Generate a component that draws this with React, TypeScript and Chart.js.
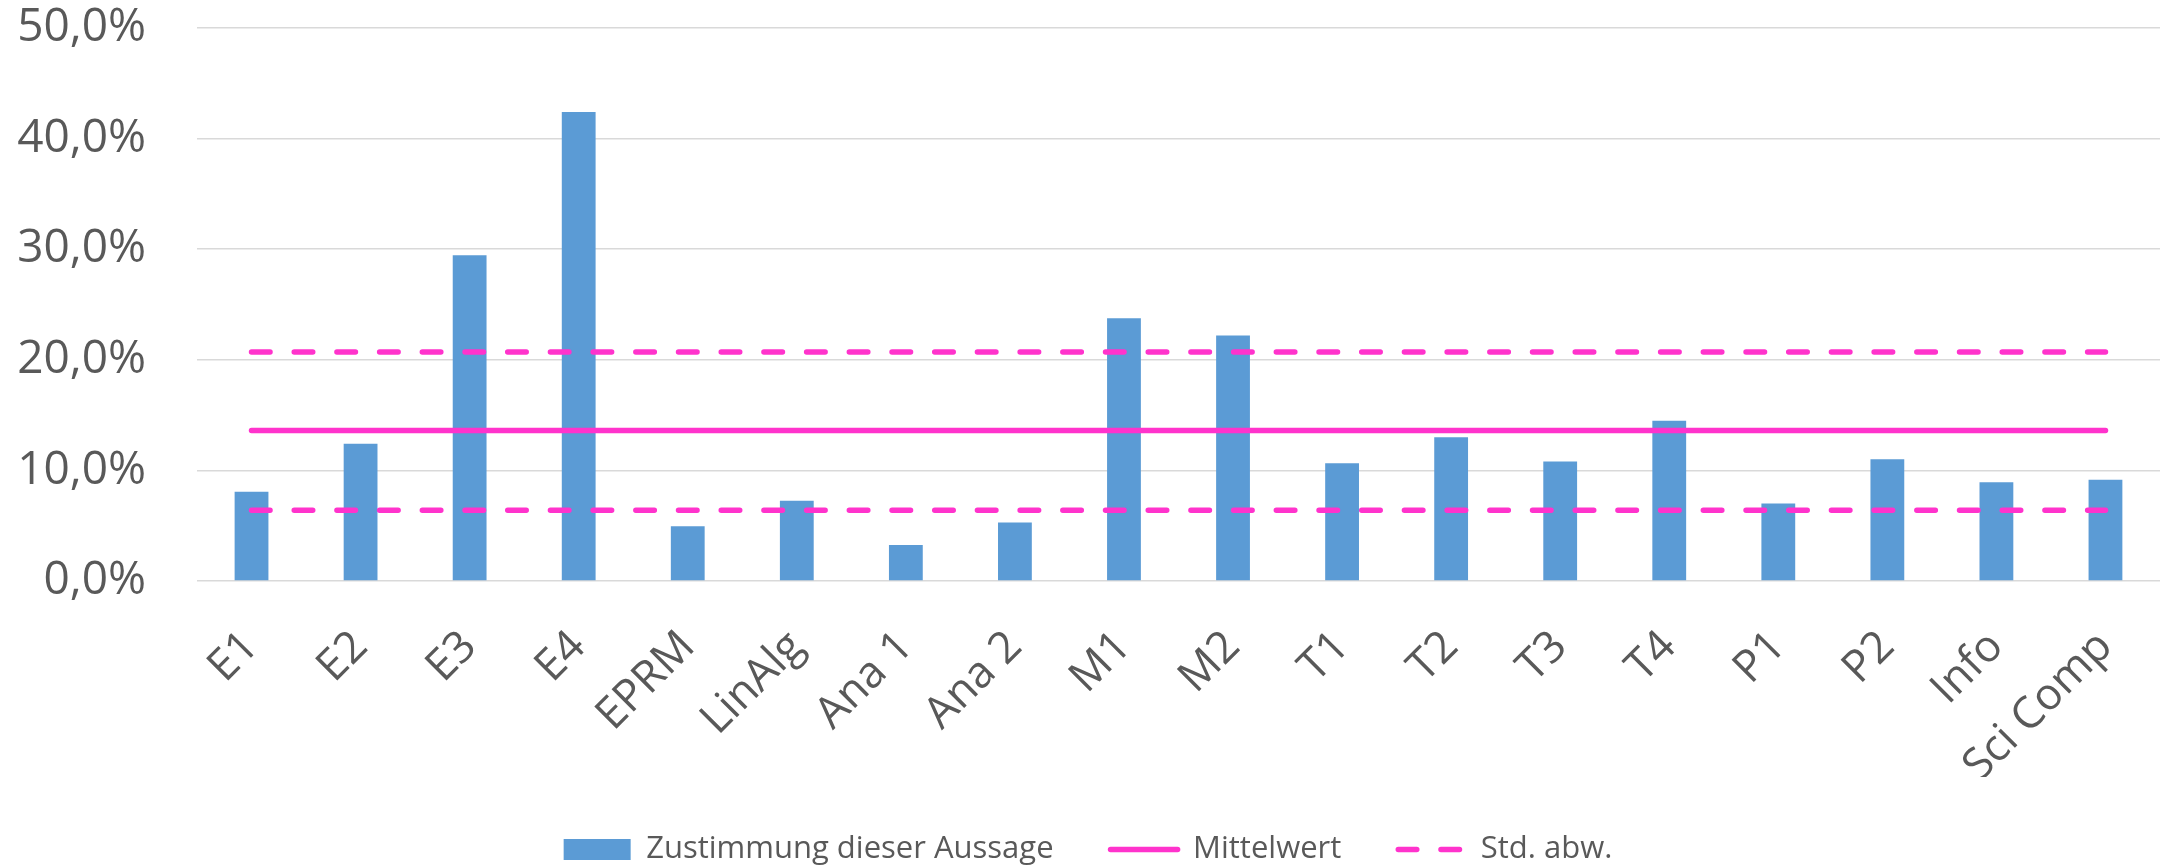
import React, { useEffect, useRef } from "react";
import { Chart, registerables } from "chart.js";

Chart.register(...registerables);

const categories = ["E1", "E2", "E3", "E4", "EPRM", "LinAlg", "Ana 1", "Ana 2", "M1", "M2", "T1", "T2", "T3", "T4", "P1", "P2", "Info", "Sci Comp"];
const zustimmung = [8.07, 12.4, 29.45, 42.4, 4.95, 7.26, 3.25, 5.3, 23.75, 22.2, 10.64, 13.0, 10.8, 14.5, 7.0, 11.0, 8.92, 9.15];
const mittelwert = [13.6, 13.6, 13.6, 13.6, 13.6, 13.6, 13.6, 13.6, 13.6, 13.6, 13.6, 13.6, 13.6, 13.6, 13.6, 13.6, 13.6, 13.6];
const stdOben = [20.7, 20.7, 20.7, 20.7, 20.7, 20.7, 20.7, 20.7, 20.7, 20.7, 20.7, 20.7, 20.7, 20.7, 20.7, 20.7, 20.7, 20.7];
const stdUnten = [6.4, 6.4, 6.4, 6.4, 6.4, 6.4, 6.4, 6.4, 6.4, 6.4, 6.4, 6.4, 6.4, 6.4, 6.4, 6.4, 6.4, 6.4];
const seriesNames = ["Zustimmung dieser Aussage", "Mittelwert", "Std. abw."];

const BAR = "#5B9BD5";
const PINK = "#FF33CC";
const TEXT = "#595959";
const GRID = "#D9D9D9";
const FONT = "'Open Sans', sans-serif";
const LINE_W = 5.5;

export default function App() {
  const ref = useRef<HTMLCanvasElement | null>(null);

  useEffect(() => {
    if (!ref.current) return;
    const dash = [18.5, 24.2];
    const lineBase = {
      type: "line",
      borderColor: PINK,
      backgroundColor: PINK,
      borderWidth: LINE_W,
      borderCapStyle: "round",
      pointRadius: 0,
      pointHoverRadius: 0,
      fill: false,
      pointStyle: "line",
    };
    const chart = new Chart(ref.current, {
      data: {
        labels: categories,
        datasets: [
          {
            type: "bar",
            label: seriesNames[0],
            data: zustimmung,
            backgroundColor: BAR,
            borderWidth: 0,
            barPercentage: 0.31,
            categoryPercentage: 1,
            order: 2,
            pointStyle: "rect",
          } as any,
          { ...lineBase, label: seriesNames[1], data: mittelwert, order: 1 } as any,
          { ...lineBase, label: seriesNames[2], data: stdOben, borderDash: dash, order: 0 } as any,
          { ...lineBase, label: "std-unten", data: stdUnten, borderDash: dash, order: 0 } as any,
        ],
      },
      options: {
        responsive: false,
        animation: false,
        devicePixelRatio: 1,
        layout: { padding: { top: 28, right: 7, left: 0, bottom: -7 } },
        plugins: {
          tooltip: { enabled: false },
          legend: {
            position: "bottom",
            labels: {
              usePointStyle: true,
              pointStyleWidth: 67,
              boxWidth: 67,
              boxHeight: 21,
              padding: 57,
              color: TEXT,
              font: { family: FONT, size: 31 },
              generateLabels: (c: any) => {
                const items = (Chart.defaults as any).plugins.legend.labels.generateLabels(c);
                items.forEach((it: any) => {
                  const ds: any = c.data.datasets[it.datasetIndex];
                  if (ds.type === "line") {
                    it.lineDash = ds.borderDash || [];
                    it.lineWidth = LINE_W;
                    it.lineCap = "round";
                    it.strokeStyle = PINK;
                    it.pointStyle = "line";
                  } else {
                    it.pointStyle = "rect";
                    it.lineWidth = 0;
                    it.fillStyle = BAR;
                  }
                });
                return items;
              },
              filter: (item: any) => item.datasetIndex !== 3,
              sort: (a: any, b: any) => a.datasetIndex - b.datasetIndex,
            },
          },
        },
        scales: {
          x: {
            grid: { display: false, drawTicks: false },
            border: { display: false },
            ticks: {
              color: TEXT,
              font: { family: FONT, size: 44 },
              minRotation: 45,
              maxRotation: 45,
              autoSkip: false,
              padding: 40,
            },
            afterFit: (s: any) => {
              s.height = 196;
            },
          },
          y: {
            min: 0,
            max: 50,
            grid: { color: GRID, lineWidth: 1.5, drawTicks: true, tickLength: 51, tickColor: "rgba(0,0,0,0)" },
            border: { display: false },
            ticks: {
              stepSize: 10,
              padding: 0,
              color: TEXT,
              font: { family: FONT, size: 46 },
              callback: (v: any) => Number(v).toFixed(1).replace(".", ",") + "%",
            },
            afterFit: (s: any) => {
              s.width = 197;
            },
          },
        },
      },
    });
    return () => chart.destroy();
  }, []);

  return (
    <div style={{ position: "absolute", left: 0, top: 0, width: 2183, height: 868, background: "#fff" }}>
      <canvas ref={ref} width={2183} height={868} style={{ display: "block" }} />
    </div>
  );
}
